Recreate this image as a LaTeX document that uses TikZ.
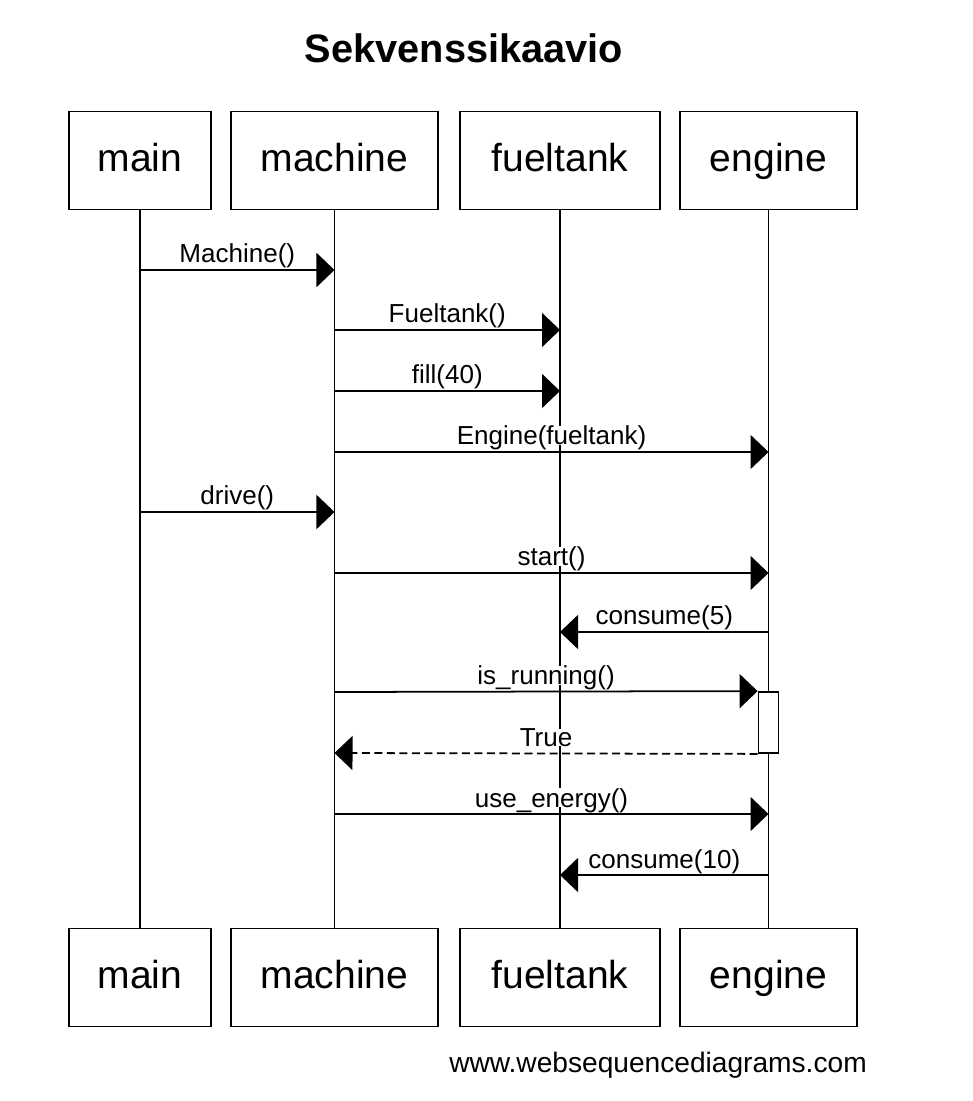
\documentclass[tikz,border=0pt]{standalone}
\usepackage{fontspec}
\setmainfont{Liberation Sans}
\usetikzlibrary{arrows.meta,positioning}
\tikzset{
  actor/.style={draw, line width=0.5pt, minimum height=0.98cm, inner sep=0pt,
    text height=0.64em, text depth=0pt, font=\fontsize{11.1}{13}\selectfont},
  lifeline/.style={line width=0.5pt},
  msg/.style={line width=0.5pt, -{Triangle[length=0.18cm,width=0.34cm]}},
  reply/.style={msg, dash pattern=on 0.08cm off 0.045cm},
  msglabel/.style={anchor=base, yshift=0.07cm, fill=white, inner xsep=1pt,
    inner ysep=0pt, text depth=0pt, font=\fontsize{7.4}{9}\selectfont},
  actbox/.style={draw, fill=white, line width=0.5pt, minimum width=0.2cm,
    minimum height=0.61cm, inner sep=0pt},
}

\begin{document}
\begin{tikzpicture}[x=0.01cm, y=-0.01cm]
    \useasboundingbox (0,0) rectangle (972,1101);
    % title
    \node[anchor=base, font=\bfseries\fontsize{11.3}{13}\selectfont] (title) at (464,63) {Sekvenssikaavio};
    % participants, top row
    \node[actor, minimum width=1.42cm] (main_top) at (140,160.5) {main};
    \node[actor, minimum width=2.07cm] (machine_top) at (334.5,160.5) {machine};
    \node[actor, minimum width=2.00cm] (fueltank_top) at (560,160.5) {fueltank};
    \node[actor, minimum width=1.77cm] (engine_top) at (768.5,160.5) {engine};
    % participants, bottom row
    \node[actor, minimum width=1.42cm] (main_bot) at (140,977.5) {main};
    \node[actor, minimum width=2.07cm] (machine_bot) at (334.5,977.5) {machine};
    \node[actor, minimum width=2.00cm] (fueltank_bot) at (560,977.5) {fueltank};
    \node[actor, minimum width=1.77cm] (engine_bot) at (768.5,977.5) {engine};
    % lifelines
    \draw[lifeline] (main_top) -- (main_bot);
    \draw[lifeline] (machine_top) -- (machine_bot);
    \draw[lifeline] (fueltank_top) -- (fueltank_bot);
    \draw[lifeline] (engine_top) -- (engine_bot);
    % activation of engine
    \node[actbox] (running) at (engine_top |- 0,722.5) {};
    % define message ends
    \coordinate (new_machine_a) at (main_top |- 0,270);
    \coordinate (new_machine_b) at (machine_top |- 0,270);
    \coordinate (new_tank_a) at (machine_top |- 0,330);
    \coordinate (new_tank_b) at (fueltank_top |- 0,330);
    \coordinate (fill_a) at (machine_top |- 0,391);
    \coordinate (fill_b) at (fueltank_top |- 0,391);
    \coordinate (new_engine_a) at (machine_top |- 0,452);
    \coordinate (new_engine_b) at (engine_top |- 0,452);
    \coordinate (drive_a) at (main_top |- 0,512);
    \coordinate (drive_b) at (machine_top |- 0,512);
    \coordinate (start_a) at (machine_top |- 0,573);
    \coordinate (start_b) at (engine_top |- 0,573);
    \coordinate (consume_a) at (engine_top |- 0,632);
    \coordinate (consume_b) at (fueltank_top |- 0,632);
    \coordinate (is_running_a) at (machine_top |- 0,692);
    \coordinate (true_b) at (machine_top |- 0,753);
    \coordinate (use_energy_a) at (machine_top |- 0,814);
    \coordinate (use_energy_b) at (engine_top |- 0,814);
    \coordinate (consume_more_a) at (engine_top |- 0,875);
    \coordinate (consume_more_b) at (fueltank_top |- 0,875);
    % draw messages
    \draw[msg] (new_machine_a) -- node[msglabel] {Machine()} (new_machine_b);
    \draw[msg] (new_tank_a) -- node[msglabel] {Fueltank()} (new_tank_b);
    \draw[msg] (fill_a) -- node[msglabel] {fill(40)} (fill_b);
    \draw[msg] (new_engine_a) -- node[msglabel] {Engine(fueltank)} (new_engine_b);
    \draw[msg] (drive_a) -- node[msglabel] {drive()} (drive_b);
    \draw[msg] (start_a) -- node[msglabel] {start()} (start_b);
    \draw[msg] (consume_a) -- node[msglabel] {consume(5)} (consume_b);
    \draw[msg] (is_running_a) -- node[msglabel] {is\_running()} (running.north west);
    \draw[reply] (running.south west) -- node[msglabel] {True} (true_b);
    \draw[msg] (use_energy_a) -- node[msglabel] {use\_energy()} (use_energy_b);
    \draw[msg] (consume_more_a) -- node[msglabel] {consume(10)} (consume_more_b);
    % footer
    \node[anchor=base, font=\fontsize{8}{10}\selectfont] (footer) at (658,1072) {www.websequencediagrams.com};
\end{tikzpicture}
\end{document}
